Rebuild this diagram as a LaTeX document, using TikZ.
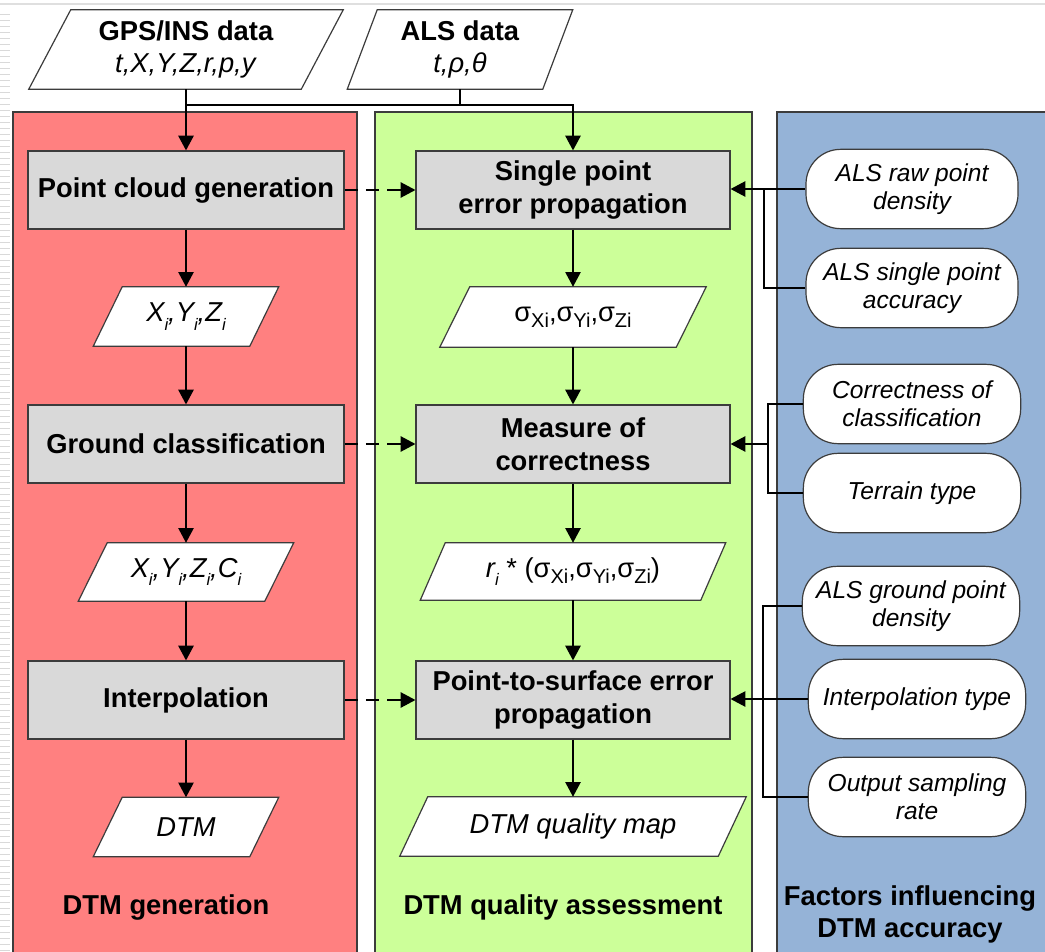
\documentclass[tikz,border=0pt]{standalone}
\usepackage{fontspec}
\setmainfont{Liberation Sans}
\usetikzlibrary{arrows.meta,calc}
\definecolor{redp}{RGB}{255,128,128}
\definecolor{greenp}{RGB}{204,255,153}
\definecolor{bluep}{RGB}{149,179,215}
\definecolor{boxg}{RGB}{217,217,217}
\definecolor{edgec}{RGB}{60,60,60}
\pgfdeclarelayer{bg}\pgfdeclarelayer{mid}\pgfsetlayers{bg,mid,main}
\newcommand\sbi[1]{\raisebox{-0.3em}{\fontsize{12.5}{12.5}\selectfont #1}}
\newcommand\sbs[1]{\raisebox{-0.22em}{\fontsize{15}{15}\selectfont #1}}
\newcommand\parashape[2]{\begin{pgfonlayer}{mid}\draw[pshape] ([xshift=-#2]#1.south west) -- ([xshift=#2]#1.north west) -- ([xshift=#2]#1.north east) -- ([xshift=-#2]#1.south east) -- cycle;\end{pgfonlayer}}
\tikzset{
 panel/.style={draw=edgec, line width=1pt},
 procbox/.style={draw=edgec, line width=0.9pt, fill=boxg, minimum width=237pt, minimum height=58.5pt, inner sep=0pt, align=center, font=\bfseries\fontsize{20.5}{24.5}\selectfont},
 midbox/.style={procbox, minimum width=235.5pt},
 pnode/.style={inner sep=0pt, align=center, font=\fontsize{20.5}{24.5}\selectfont},
 pshape/.style={draw=edgec, line width=0.9pt, fill=white},
 factor/.style={draw=edgec, line width=0.9pt, fill=white, rounded corners=26pt, minimum width=163pt, minimum height=59.5pt, inner sep=0pt, align=center, font=\itshape\fontsize{18.4}{21}\selectfont},
 conn/.style={line width=1.1pt, black},
 arr/.style={conn, -{Triangle[length=11pt,width=11.5pt]}},
 darr/.style={arr, line width=0.9pt, dash pattern=on 10pt off 6pt},
 fconn/.style={line width=0.8pt, black},
 farr/.style={fconn, -{Triangle[length=11pt,width=11.5pt]}},
 ptitle/.style={font=\bfseries\fontsize{20.5}{24}\selectfont, align=center},
}
\begin{document}
\begin{tikzpicture}[x=0.75pt,y=-0.75pt]
\useasboundingbox (0,0) rectangle (1045,952);
\begin{pgfonlayer}{bg}
\fill[white] (0,0) rectangle (1045,952);
\draw[gray!25, line width=1.2pt] (0,4) -- (1045,4);
\foreach \yy in {14,20,...,950} \draw[gray!30, line width=0.6pt] (0,\yy) -- (10,\yy);
\draw[panel, fill=redp] (13,112) rectangle (357,965);
\draw[panel, fill=greenp] (375,112) rectangle (752,965);
\draw[panel, fill=bluep] (777,112) rectangle (1060,965);
\end{pgfonlayer}

% process boxes
\node[procbox] (pc) at (186,190) {Point cloud generation};
\node[procbox] (gc) at (186,444) {Ground classification};
\node[procbox] (ip) at (186,700) {Interpolation};
\node[midbox] (sp) at (573,190) {Single point\\error propagation};
\node[midbox] (mc) at (573,444) {Measure of\\correctness};
\node[midbox] (ps) at (573,700) {Point-to-surface error\\propagation};

% data parallelograms
\node[pnode, minimum width=204pt, minimum height=59.25pt] (gps) at (186,49.5) {\textbf{GPS/INS data}\\\textit{t,X,Y,Z,r,p,y}};
\parashape{gps}{15.75pt}
\node[pnode, minimum width=146.25pt, minimum height=59.25pt] (als) at (460,49.5) {\textbf{ALS data}\\\textit{t,ρ,θ}};
\parashape{als}{11.25pt}
\node[pnode, minimum width=117pt, minimum height=44.25pt] (xyz) at (186,316.5) {\textit{X\sbi{i},Y\sbi{i},Z\sbi{i}}};
\parashape{xyz}{10.875pt}
\node[pnode, minimum width=139.5pt, minimum height=43.5pt] (xyzc) at (186,572) {\textit{X\sbi{i},Y\sbi{i},Z\sbi{i},C\sbi{i}}};
\parashape{xyzc}{10.875pt}
\node[pnode, minimum width=117pt, minimum height=44.25pt] (dtm) at (186,827) {\textit{DTM}};
\parashape{dtm}{10.875pt}
\node[pnode, minimum width=177pt, minimum height=45pt] (sig) at (573,317) {σ\sbs{Xi},σ\sbs{Yi},σ\sbs{Zi}};
\parashape{sig}{11.25pt}
\node[pnode, minimum width=210pt, minimum height=42.75pt] (ri) at (573,571.5) {\textit{r\sbi{i}} * (σ\sbs{Xi},σ\sbs{Yi},σ\sbs{Zi})};
\parashape{ri}{9.375pt}
\node[pnode, minimum width=238.5pt, minimum height=44.25pt] (qm) at (573,826.5) {\textit{DTM quality map}};
\parashape{qm}{10.5pt}

% factors
\node[factor, minimum width=159pt] (e1) at (912,189) {ALS raw point\\density};
\node[factor, minimum width=159pt] (e2) at (912,288) {ALS single point\\accuracy};
\node[factor] (e3) at (912,404) {Correctness of\\classification};
\node[factor] (e4) at (912,493) {Terrain type};
\node[factor] (e5) at (911,606) {ALS ground point\\density};
\node[factor] (e6) at (917,699) {Interpolation type};
\node[factor] (e7) at (917,797) {Output sampling\\rate};

% panel titles
\node[ptitle] (t1) at (166,907) {DTM generation};
\node[ptitle] (t2) at (563,907) {DTM quality assessment};
\node[ptitle] (t3) at (910,914) {Factors influencing\\DTM accuracy};

% top connectors
\coordinate (hy) at (0,105);
\draw[arr] (gps.south) -- (pc.north);
\draw[arr] (gps.south |- hy) -| (sp.north);
\draw[conn] (als.south) -- (als.south |- hy);

% left column
\draw[arr] (pc.south) -- (xyz.north);
\draw[arr] (xyz.south) -- (gc.north);
\draw[arr] (gc.south) -- (xyzc.north);
\draw[arr] (xyzc.south) -- (ip.north);
\draw[arr] (ip.south) -- (dtm.north);

% middle column
\draw[arr] (sp.south) -- (sig.north);
\draw[arr] (sig.south) -- (mc.north);
\draw[arr] (mc.south) -- (ri.north);
\draw[arr] (ri.south) -- (ps.north);
\draw[arr] (ps.south) -- (qm.north);

% dashed links
\draw[darr] (pc.east) -- (sp.west);
\draw[darr] (gc.east) -- (mc.west);
\draw[darr] (ip.east) -- (ps.west);

% factor links
\coordinate (k1) at (764,189);
\draw[farr] (e1.west) -- (e1.west -| sp.east);
\draw[fconn] (e2.west) -| (k1);
\coordinate (k2) at (768,444);
\draw[fconn] (e3.west) -| (k2 |- e4.west) -- (e4.west);
\draw[farr] (k2) -- (k2 -| mc.east);
\coordinate (k3) at (763,699);
\draw[fconn] (e5.west) -| (k3 |- e7.west) -- (e7.west);
\draw[farr] (e6.west) -- (e6.west -| ps.east);
\end{tikzpicture}
\end{document}
